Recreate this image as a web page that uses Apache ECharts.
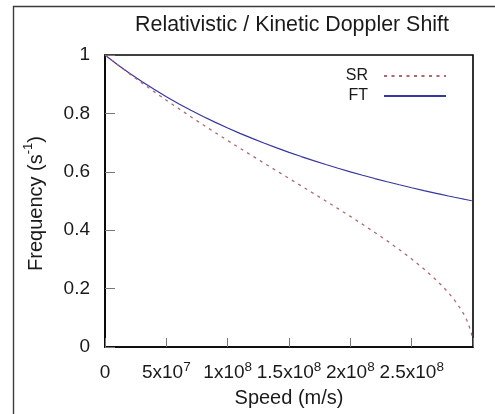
<!DOCTYPE html>
<html>
<head>
<meta charset="utf-8">
<script src="https://cdn.jsdelivr.net/npm/echarts@6/dist/echarts.min.js"></script>
<style>
html,body{margin:0;padding:0;background:#fff;}
#chart{width:495px;height:414px;}
</style>
</head>
<body>
<div id="chart"></div>
<script>
// Speed (m/s)
const speeds = [0, 1e7, 2e7, 3e7, 4e7, 5e7, 6e7, 7e7, 8e7, 9e7, 1e8, 1.1e8, 1.2e8, 1.3e8, 1.4e8, 1.5e8, 1.6e8, 1.7e8, 1.8e8, 1.9e8, 2e8, 2.1e8, 2.2e8, 2.3e8, 2.4e8, 2.5e8, 2.6e8, 2.7e8, 2.75e8, 2.8e8, 2.85e8, 2.9e8, 2.925e8, 2.95e8, 2.98e8, 2.99e8, 2.995e8];
// Frequency (s^-1)
const srValues = [1, 0.9672, 0.9354, 0.9045, 0.8745, 0.8452, 0.8165, 0.7884, 0.7609, 0.7338, 0.7071, 0.6807, 0.6547, 0.6288, 0.6030, 0.5774, 0.5517, 0.5259, 0.5, 0.4738, 0.4472, 0.4201, 0.3922, 0.3634, 0.3333, 0.3015, 0.2673, 0.2294, 0.2085, 0.1857, 0.1601, 0.1302, 0.1125, 0.0917, 0.0578, 0.0409, 0.0289];
const ftValues = [1, 0.9677, 0.9375, 0.9091, 0.8824, 0.8571, 0.8333, 0.8108, 0.7895, 0.7692, 0.75, 0.7317, 0.7143, 0.6977, 0.6818, 0.6667, 0.6522, 0.6383, 0.625, 0.6122, 0.6, 0.5882, 0.5769, 0.5660, 0.5556, 0.5455, 0.5357, 0.5263, 0.5217, 0.5172, 0.5128, 0.5085, 0.5063, 0.5042, 0.5017, 0.5008, 0.5004];
const seriesNames = ['SR', 'FT'];
const titleText = 'Relativistic / Kinetic Doppler Shift';
const xName = 'Speed (m/s)';
const yTickLabels = ['0', '0.2', '0.4', '0.6', '0.8', '1'];

const FONT = 'Liberation Sans, Arial, Helvetica, sans-serif';
const TXT = '#1a1a1a';
const SR_COLOR = '#b0666c';
const FT_COLOR = '#3636a0';
const CLEAR = 'rgba(0,0,0,0)';

const srData = speeds.map((s, i) => [s, srValues[i]]);
const ftData = speeds.map((s, i) => [s, ftValues[i]]);

function xLabel(v) {
  if (v === 0) return '{b|0}';
  if (v >= 3e8) return '';
  const e = Math.floor(Math.log10(v) + 1e-9);
  const m = +(v / Math.pow(10, e)).toFixed(2);
  return '{b|' + m + 'x10}{s|' + e + '}';
}

const legendBase = {
  right: 48, align: 'right', orient: 'vertical',
  itemWidth: 62, itemHeight: 14, itemGap: 15, padding: 0,
  itemStyle: {color: CLEAR, borderColor: CLEAR, borderWidth: 0, opacity: 0},
  textStyle: {fontFamily: FONT, fontSize: 16, color: TXT, padding: [0, 11, 0, 0]}
};

const chart = echarts.init(document.getElementById('chart'), null, {renderer: 'canvas'});
chart.setOption({
  animation: false,
  backgroundColor: '#fff',
  textStyle: {fontFamily: FONT},
  title: {
    text: titleText,
    left: 287, top: 10, textAlign: 'center',
    textStyle: {fontFamily: FONT, fontSize: 21.4, fontWeight: 'normal', color: TXT}
  },
  graphic: [{
    type: 'rect', silent: true,
    shape: {x: 13.5, y: 6.5, width: 700, height: 700},
    style: {fill: 'none', stroke: '#3c3c3c', lineWidth: 1.4}
  }],
  legend: [
    Object.assign({}, legendBase, {data: [seriesNames[0]], top: 68}),
    Object.assign({}, legendBase, {data: [seriesNames[1]], top: 88})
  ],
  grid: {
    left: 105, top: 55, right: 22, bottom: 67,
    show: true, borderColor: '#000', borderWidth: 1.6,
    containLabel: false, outerBoundsMode: 'none'
  },
  xAxis: {
    type: 'value', min: 0, max: 3e8, interval: 5e7,
    name: xName, nameLocation: 'middle', nameGap: 41,
    nameTextStyle: {fontFamily: FONT, fontSize: 20, color: TXT},
    axisLine: {show: true, lineStyle: {color: '#000', width: 1.6}},
    axisTick: {show: true, inside: true, length: 9, lineStyle: {color: '#777', width: 1}},
    splitLine: {show: false},
    axisLabel: {
      margin: 13, formatter: xLabel, hideOverlap: false,
      rich: {
        b: {fontFamily: FONT, fontSize: 19, color: TXT, lineHeight: 22, verticalAlign: 'bottom'},
        s: {fontFamily: FONT, fontSize: 13.5, color: TXT, lineHeight: 13, verticalAlign: 'top'}
      }
    }
  },
  yAxis: {
    type: 'value', min: 0, max: 1, interval: 0.2,
    name: '{a|Frequency (s}{s|-1}{a|)}', nameLocation: 'middle', nameGap: 59, nameRotate: 90,
    nameTextStyle: {
      fontFamily: FONT, fontSize: 20, color: TXT, padding: [0, 5, 0, 0],
      rich: {
        a: {fontFamily: FONT, fontSize: 20, color: TXT, lineHeight: 24, verticalAlign: 'bottom'},
        s: {fontFamily: FONT, fontSize: 13, color: TXT, lineHeight: 13, verticalAlign: 'top'}
      }
    },
    axisLine: {show: true, lineStyle: {color: '#000', width: 1.6}},
    axisTick: {show: true, inside: true, length: 10, lineStyle: {color: '#777', width: 1}},
    splitLine: {show: false},
    axisLabel: {
      margin: 15, fontFamily: FONT, fontSize: 19, color: TXT,
      verticalAlign: 'middle',
      formatter: (v) => yTickLabels[Math.round(v / 0.2)]
    }
  },
  series: [{
    name: seriesNames[0], type: 'line', data: srData, symbol: 'none', showSymbol: false,
    lineStyle: {color: SR_COLOR, width: 1.3, type: [3, 4.5]}, itemStyle: {color: SR_COLOR}, z: 3
  }, {
    name: seriesNames[1], type: 'line', data: ftData, symbol: 'none', showSymbol: false,
    lineStyle: {color: FT_COLOR, width: 1.2, type: 'solid'}, itemStyle: {color: FT_COLOR}, z: 2
  }]
});
</script>
</body>
</html>
